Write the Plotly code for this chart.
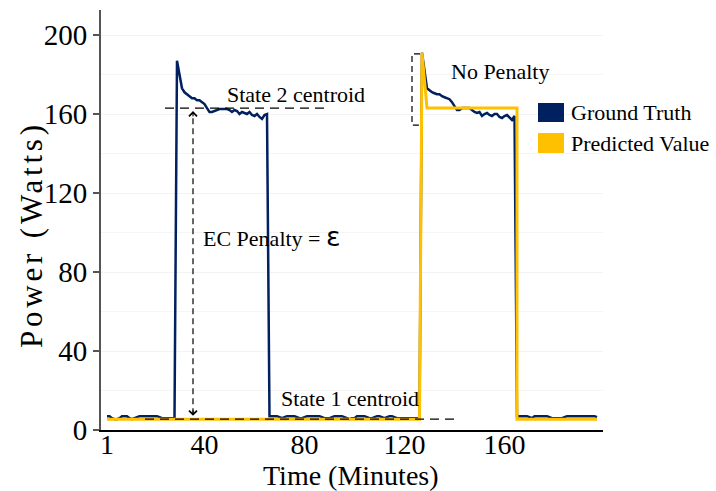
import plotly.graph_objects as go

# ---------------- data ----------------
minutes = list(range(1, 198))

ground_truth = [
    # minutes 1-28 (state 1)
    7, 7, 6, 5.5, 5.5, 6, 7, 7, 7, 6, 5.5, 6, 6.5, 7, 7, 7, 7, 7, 7, 7, 7, 6.5, 6, 6, 6, 6, 6, 6,
    # minutes 29-65 (state 2)
    187, 180, 173, 171, 170, 169, 168, 168, 167, 167, 166, 165, 163, 161, 161, 161.5, 162, 162.5,
    162.5, 162.5, 162.5, 162, 161, 162, 161.5, 160, 161, 160.5, 160, 161, 159.5, 159, 160, 158.5,
    157.5, 159.5, 160,
    # minutes 66-126 (state 1)
    7, 7, 7, 7, 6.5, 6, 6.5, 7, 7, 7, 7, 6.5, 6, 6, 6.5, 7, 7, 7, 7, 7, 7, 6.5, 6, 6, 6, 6.5, 7, 7,
    7, 7, 6.5, 6, 5.5, 6, 6, 7, 7, 7, 7, 6.5, 6, 6, 6.5, 7, 7, 6.5, 6, 6.5, 7, 7, 6.5, 6, 6, 6, 6,
    6, 6, 6, 6, 6, 6,
    # minutes 127-164 (state 2)
    191, 182, 173, 172, 171, 170.5, 170, 170, 169, 168.5, 168, 167.5, 166, 164, 162, 162, 163, 163,
    163, 163, 162, 161, 160.5, 161, 159, 160, 160.5, 159.5, 159, 160, 160, 158.5, 158, 159, 159.5,
    158, 157, 159,
    # minutes 165-197 (state 1)
    7, 7, 7, 7, 7, 6.5, 6, 7, 7, 7, 7, 7, 7, 6.5, 6, 6, 6, 6, 6, 6.5, 7, 7, 7, 7, 7, 7, 7, 7, 7, 7,
    7, 7, 6.5,
]

pred_minutes = [1, 126, 127, 129, 165, 165, 197]
pred_values = [5.5, 5.5, 191, 163, 163, 5.5, 5.5]

state1_centroid = 5.5
state2_centroid = 163

x_ticks = [1, 40, 80, 120, 160]
y_ticks = [0, 40, 80, 120, 160, 200]

series_names = ["Ground Truth", "Predicted Value"]
NAVY = "#002060"
GOLD = "#FFC000"
FONT = "Liberation Serif"

# ---------------- figure ----------------
fig = go.Figure()
fig.add_trace(go.Scatter(x=minutes, y=ground_truth, mode="lines", name=series_names[0],
                         line=dict(color=NAVY, width=2.5), showlegend=False))
fig.add_trace(go.Scatter(x=pred_minutes, y=pred_values, mode="lines", name=series_names[1],
                         line=dict(color=GOLD, width=3), showlegend=False))

dash = "9px,6px"
shapes = [
    # state 2 centroid
    dict(type="line", xref="x", yref="y", x0=24.2, x1=89, y0=state2_centroid, y1=state2_centroid,
         line=dict(color="black", width=1.3, dash=dash), layer="above"),
    # state 1 centroid
    dict(type="line", xref="x", yref="y", x0=16.2, x1=141, y0=state1_centroid, y1=state1_centroid,
         line=dict(color="black", width=1.3, dash=dash), layer="above"),
    # EC penalty vertical
    dict(type="line", xref="x", yref="y", x0=35.4, x1=35.4, y0=8, y1=160.5,
         line=dict(color="black", width=1.2, dash="6px,4px"), layer="above"),
    # no penalty bracket
    dict(type="path", xref="x", yref="y",
         path="M 126.2,190.4 L 123,190.4 L 123,154.4 L 125.8,154.4",
         line=dict(color="black", width=1.2, dash="6px,4px"), layer="above"),
]

# manual legend (square keys)
def px_to_paper_x(px):
    return (px - 101) / 502.0

def py_to_paper_y(py):
    return (430 - py) / 420.0

legend_rows = [(103, 122, NAVY), (133, 153, GOLD)]
for (top, bot, col) in legend_rows:
    shapes.append(dict(type="rect", xref="paper", yref="paper",
                       x0=px_to_paper_x(538), x1=px_to_paper_x(564),
                       y0=py_to_paper_y(bot), y1=py_to_paper_y(top),
                       fillcolor=col, line=dict(width=0)))

annotations = [
    dict(x=76.6, y=170.1, xref="x", yref="y", text="State 2 centroid", showarrow=False,
         font=dict(family=FONT, size=22, color="black")),
    dict(x=98.2, y=15.7, xref="x", yref="y", text="State 1 centroid", showarrow=False,
         font=dict(family=FONT, size=22, color="black")),
    dict(x=158.2, y=181.5, xref="x", yref="y", text="No Penalty", showarrow=False,
         font=dict(family=FONT, size=22, color="black")),
    dict(x=38.5, y=98.2, xref="x", yref="y", xanchor="left",
         text='EC Penalty = <span style="font-family:DejaVu Sans;font-size:27px">ε</span>',
         showarrow=False, font=dict(family=FONT, size=22, color="black")),
    # arrow heads
    dict(x=35.4, y=161.5, xref="x", yref="y", ax=0, ay=7, text="", showarrow=True,
         arrowhead=4, arrowsize=1.4, arrowwidth=1.1, arrowcolor="black"),
    dict(x=35.4, y=7.2, xref="x", yref="y", ax=0, ay=-7, text="", showarrow=True,
         arrowhead=4, arrowsize=1.4, arrowwidth=1.1, arrowcolor="black"),
    # axis titles
    dict(x=px_to_paper_x(31), y=py_to_paper_y(235), xref="paper", yref="paper",
         xanchor="center", yanchor="middle",
         text='<span style="letter-spacing:3.8px">Power (Watts)</span>', textangle=-90,
         showarrow=False, font=dict(family=FONT, size=31, color="black")),
    dict(x=px_to_paper_x(350.5), y=py_to_paper_y(475), xref="paper", yref="paper",
         xanchor="center", yanchor="middle", borderpad=0,
         text="Time (Minutes)", showarrow=False,
         font=dict(family=FONT, size=28, color="black")),
]
for i, name in enumerate(series_names):
    top, bot, _ = legend_rows[i]
    annotations.append(dict(x=px_to_paper_x(569), y=py_to_paper_y((top + bot) / 2),
                            xref="paper", yref="paper", xanchor="left", yanchor="middle",
                            text=name, showarrow=False,
                            font=dict(family=FONT, size=22, color="black")))

fig.update_layout(
    width=716, height=491,
    margin=dict(l=101, r=113, t=10, b=61),
    paper_bgcolor="white", plot_bgcolor="white",
    font=dict(family=FONT, color="black"),
    shapes=shapes, annotations=annotations,
    showlegend=False,
)
fig.update_xaxes(range=[-1.4, 199.4], tickvals=x_ticks, ticktext=[str(v) for v in x_ticks],
                 ticks="", showline=True, linecolor="black", linewidth=1.5, ticklabelstandoff=-11,
                 showgrid=False, zeroline=False, tickfont=dict(family=FONT, size=28, color="black"))
fig.update_yaxes(range=[0, 212.66], tickvals=y_ticks, ticks="outside", ticklen=6,
                 tickcolor="#555555", tickwidth=1.5, showline=True, linecolor="#555555", linewidth=2,
                 showgrid=True, gridcolor="#f3f3f3", gridwidth=1, zeroline=False,
                 minor=dict(dtick=20, tick0=0, showgrid=True, gridcolor="#f5f5f5", ticks=""),
                 tickfont=dict(family=FONT, size=29, color="black"))

fig.write_html("out.html")
